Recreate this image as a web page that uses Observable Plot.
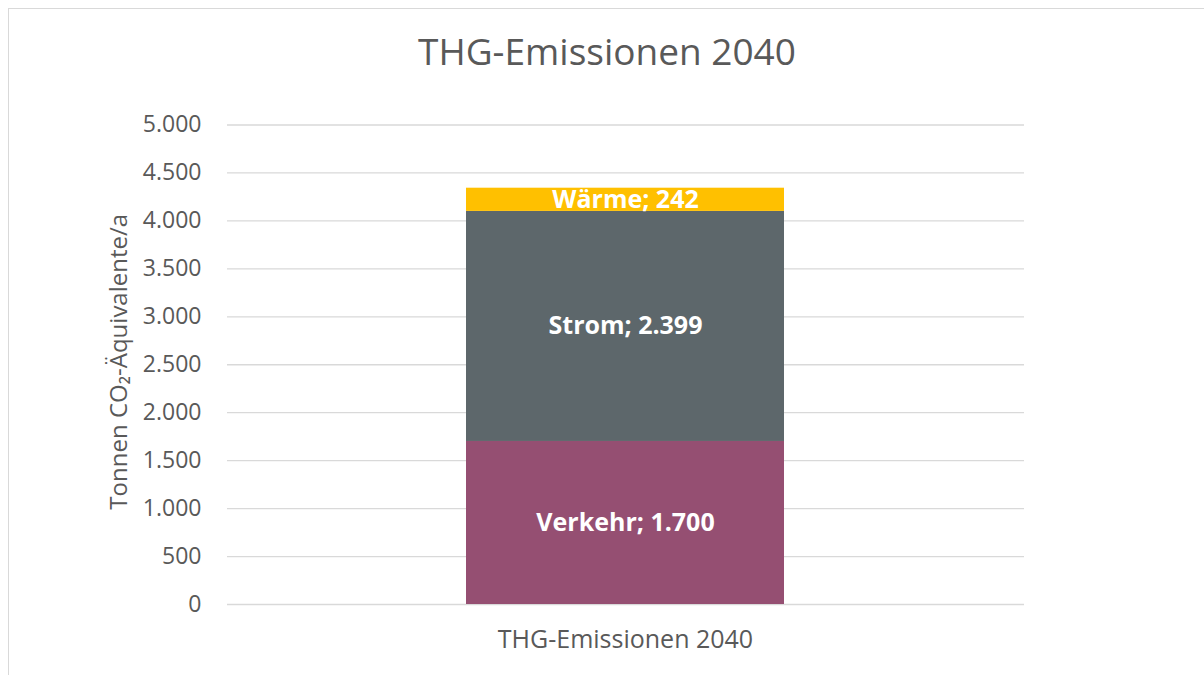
<!DOCTYPE html>
<html>
<head>
<meta charset="utf-8">
<script src="https://cdn.jsdelivr.net/npm/d3@7"></script>
<script src="https://cdn.jsdelivr.net/npm/@observablehq/plot@0.6"></script>
<style>
  html, body { margin: 0; padding: 0; background: #fff; }
  #wrap { position: relative; width: 1204px; height: 675px; overflow: hidden; font-family: "Open Sans", sans-serif; }
  #frame { position: absolute; left: 8px; top: 8px; width: 1300px; height: 800px; border: 1.5px solid #d9d9d9; box-sizing: border-box; }
  #title { position: absolute; left: 0; width: 1214px; top: 25px; text-align: center; font-size: 37px; color: #595959; }
  #chart { position: absolute; left: 0; top: 0; }
</style>
</head>
<body>
<div id="wrap">
  <div id="frame"></div>
  <div id="chart"></div>
  <div id="title">THG-Emissionen 2040</div>
</div>
<script>
const category = "THG-Emissionen 2040";
const sectors = ["Verkehr", "Strom", "Wärme"];
const values = [1700, 2399, 242];
const colors = ["#954F72", "#5D676B", "#FFC000"];
const yTicks = [0, 500, 1000, 1500, 2000, 2500, 3000, 3500, 4000, 4500, 5000];
const yLabel = "Tonnen CO₂-Äquivalente/a";

const de = d3.formatLocale({decimal: ",", thousands: ".", grouping: [3], currency: ["", " €"]});
const fmt = de.format(",d");

let acc = 0;
const data = sectors.map((s, i) => {
  const y1 = acc; acc += values[i];
  return {cat: category, sector: s, value: values[i], y1, y2: acc, mid: (y1 + acc) / 2,
          label: `${s}; ${fmt(values[i])}`};
});

const plot = Plot.plot({
  width: 1204,
  height: 675,
  marginLeft: 227,
  marginRight: 180,
  marginTop: 124.5,
  marginBottom: 71,
  style: {fontFamily: "'Open Sans', sans-serif", background: "transparent", overflow: "visible"},
  x: {domain: [category], padding: 0.4286, label: null},
  y: {domain: [0, 5000], ticks: yTicks, label: null},
  color: {domain: sectors, range: colors},
  marks: [
    Plot.gridY(yTicks, {stroke: "#d9d9d9", strokeOpacity: 1, strokeWidth: 1.3}),
    Plot.barY(data, {x: "cat", y1: "y1", y2: "y2", fill: "sector"}),
    Plot.axisY(yTicks, {tickSize: 0, tickPadding: 26, tickFormat: fmt, fontSize: 23, color: "#595959", label: null}),
    Plot.axisX({tickSize: 0, tickPadding: 26, fontSize: 25, color: "#595959", label: null}),
    Plot.text(data, {x: "cat", y: "mid", text: "label", fill: "white", fontSize: 25, fontWeight: "bold"}),
    Plot.text([yLabel], {frameAnchor: "left", textAnchor: "middle", dx: -108, dy: -3, rotate: -90, fontSize: 24, fill: "#595959", text: d => d})
  ]
});
document.getElementById("chart").appendChild(plot);
</script>
</body>
</html>
